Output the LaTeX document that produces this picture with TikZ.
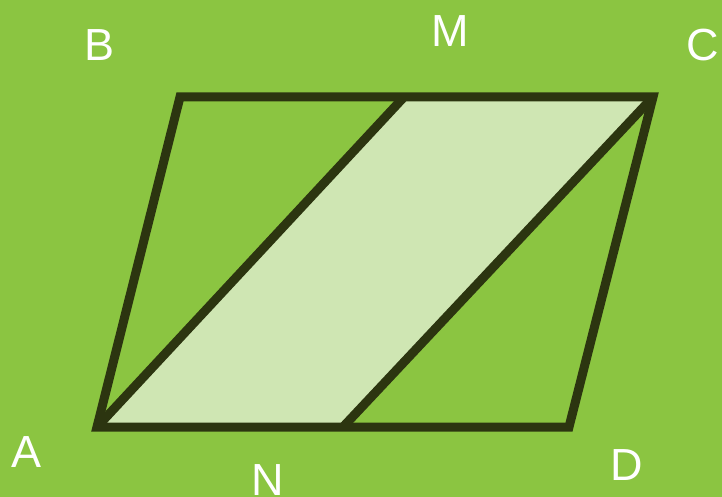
\documentclass[tikz,border=0pt]{standalone}
\usepackage{fontspec}
\setmainfont{Liberation Sans}
\definecolor{bg}{HTML}{8BC541}
\definecolor{lite}{HTML}{CFE6B3}
\definecolor{edge}{HTML}{2C3510}
\begin{document}
\begin{tikzpicture}[x=1pt,y=-1pt,
  lbl/.style={text=white,font=\fontsize{45}{45}\selectfont,inner sep=0pt},
  edg/.style={draw=edge,line width=9pt,line join=miter}]
\fill[bg] (0,0) rectangle (722,497);
\useasboundingbox (0,0) rectangle (722,497);
\coordinate (A) at (97,427);
\coordinate (B) at (180,97);
\coordinate (C) at (653,97);
\coordinate (D) at (569,427);
\coordinate (M) at (404,97);
\coordinate (N) at (343,427);
\fill[lite] (A) -- (M) -- (C) -- (N) -- cycle;
\draw[edg] (A) -- (B) -- (C) -- (D) -- cycle;
\draw[edg] (A) -- (M);
\draw[edg] (N) -- (C);
\node[lbl] (lB) at (100,45) {B};
\node[lbl] (lM) at (450,31) {M};
\node[lbl] (lC) at (703,45) {C};
\node[lbl] (lA) at (27,452) {A};
\node[lbl] (lN) at (268,480) {N};
\node[lbl] (lD) at (627,465) {D};
\end{tikzpicture}
\end{document}
